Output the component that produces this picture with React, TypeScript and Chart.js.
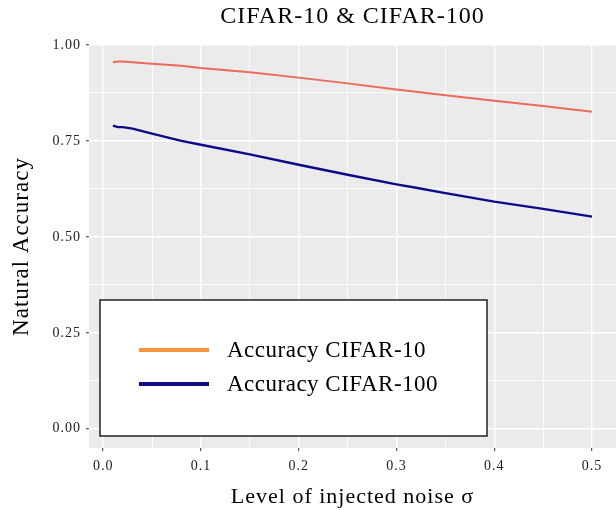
import React, { useEffect, useRef } from "react";
import { Chart, registerables } from "chart.js";

Chart.register(...registerables);

const noise = [0.01, 0.015, 0.02, 0.03, 0.05, 0.08, 0.1, 0.15, 0.2, 0.25, 0.3, 0.32, 0.35, 0.4, 0.45, 0.5];
const accCifar10 = [0.955, 0.957, 0.957, 0.955, 0.951, 0.946, 0.94, 0.929, 0.915, 0.9, 0.884, 0.878, 0.869, 0.855, 0.841, 0.826];
const accCifar100 = [0.79, 0.786, 0.786, 0.782, 0.769, 0.75, 0.74, 0.715, 0.688, 0.662, 0.637, 0.628, 0.614, 0.592, 0.573, 0.553];
const seriesLabels = ["Accuracy CIFAR-10", "Accuracy CIFAR-100"];
const xTicks = [0, 0.05, 0.1, 0.15, 0.2, 0.25, 0.3, 0.35, 0.4, 0.45, 0.5];
const yTicks = [0, 0.125, 0.25, 0.375, 0.5, 0.625, 0.75, 0.875, 1];

const FONT = "'Liberation Serif', 'Times New Roman', serif";
const lineColors = ["#EC695B", "#0B0B8A"];
const legendColors = ["#F8963F", "#0B0B8A"];
const LETTER_SPACING = "1px";

const isMajor = (v: number, step: number) => Math.abs(v / step - Math.round(v / step)) < 1e-6;

const spacing = {
  id: "spacing",
  beforeLayout(chart: any) {
    chart.ctx.letterSpacing = LETTER_SPACING;
  },
  beforeDraw(chart: any) {
    chart.ctx.letterSpacing = LETTER_SPACING;
  },
};

const panelBg = {
  id: "panelBg",
  beforeDraw(chart: any) {
    const { ctx, chartArea: a } = chart;
    ctx.save();
    ctx.fillStyle = "#EBEBEB";
    ctx.fillRect(a.left, a.top, a.right - a.left, a.bottom - a.top);
    ctx.restore();
  },
};

const boxLegend = {
  id: "boxLegend",
  afterDraw(chart: any) {
    const { ctx, chartArea: a } = chart;
    const left = a.left + 11;
    const bottom = a.bottom - 12;
    const w = 387;
    const h = 136;
    const top = bottom - h;
    ctx.save();
    ctx.fillStyle = "#FFFFFF";
    ctx.fillRect(left, top, w, h);
    ctx.strokeStyle = "#000000";
    ctx.lineWidth = 1.3;
    ctx.strokeRect(left, top, w, h);
    const rows = [top + 50, top + 84];
    chart.data.datasets.forEach((ds: any, i: number) => {
      const y = rows[i];
      ctx.strokeStyle = legendColors[i];
      ctx.lineWidth = 4;
      ctx.beginPath();
      ctx.moveTo(left + 39, y);
      ctx.lineTo(left + 109, y);
      ctx.stroke();
      ctx.fillStyle = "#000000";
      ctx.letterSpacing = "0.5px";
      ctx.font = `23px ${FONT}`;
      ctx.textBaseline = "middle";
      ctx.textAlign = "left";
      ctx.fillText(ds.label, left + 127, y + 1);
    });
    ctx.restore();
  },
};

export default function App() {
  const ref = useRef<HTMLCanvasElement | null>(null);
  useEffect(() => {
    document.body.style.margin = "0";
    if (!ref.current) return;
    const chart = new Chart(ref.current, {
      type: "line",
      data: {
        datasets: [
          {
            label: seriesLabels[0],
            data: noise.map((x, i) => ({ x, y: accCifar10[i] })),
            borderColor: lineColors[0],
            borderWidth: 2,
            pointRadius: 0,
            tension: 0,
          },
          {
            label: seriesLabels[1],
            data: noise.map((x, i) => ({ x, y: accCifar100[i] })),
            borderColor: lineColors[1],
            borderWidth: 2.4,
            pointRadius: 0,
            tension: 0,
          },
        ],
      },
      options: {
        animation: false,
        responsive: false,
        events: [],
        layout: { padding: 0 },
        plugins: {
          legend: { display: false },
          tooltip: { enabled: false },
          title: {
            display: true,
            text: "CIFAR-10 & CIFAR-100",
            fullSize: false,
            color: "#000000",
            font: { family: FONT, size: 24, weight: "normal", lineHeight: 1.2 },
            padding: { top: 2, bottom: 14.2 },
          },
        },
        scales: {
          x: {
            type: "linear",
            min: -0.0145,
            max: 0.5245,
            afterBuildTicks: (s: any) => {
              s.ticks = xTicks.map((v) => ({ value: v }));
            },
            afterFit: (s: any) => {
              s.height = 62;
            },
            border: { display: false },
            grid: {
              color: "#FFFFFF",
              lineWidth: (c: any) => (isMajor(c.tick.value, 0.1) ? 1.4 : 0.8),
              drawTicks: true,
              tickLength: 3,
              tickWidth: 1,
              tickColor: (c: any) => (isMajor(c.tick.value, 0.1) ? "#333333" : "rgba(0,0,0,0)"),
            },
            ticks: {
              color: "#222222",
              padding: 7,
              maxRotation: 0,
              autoSkip: false,
              font: { family: FONT, size: 14 },
              callback: (v: any) => (isMajor(Number(v), 0.1) ? Number(v).toFixed(1) : ""),
            },
            title: {
              display: true,
              text: "Level of injected noise σ",
              color: "#000000",
              font: { family: FONT, size: 22, lineHeight: 1.2 },
              padding: { top: 0, bottom: 0 },
            },
          },
          y: {
            type: "linear",
            min: -0.05,
            max: 1.0,
            afterBuildTicks: (s: any) => {
              s.ticks = yTicks.map((v) => ({ value: v }));
            },
            afterFit: (s: any) => {
              s.width = 89;
            },
            border: { display: false },
            grid: {
              color: "#FFFFFF",
              lineWidth: (c: any) => (isMajor(c.tick.value, 0.25) ? 1.4 : 0.8),
              drawTicks: true,
              tickLength: 3,
              tickWidth: 1,
              tickColor: (c: any) => (isMajor(c.tick.value, 0.25) ? "#333333" : "rgba(0,0,0,0)"),
            },
            ticks: {
              color: "#222222",
              padding: 5,
              autoSkip: false,
              font: { family: FONT, size: 14 },
              callback: (v: any) => (isMajor(Number(v), 0.25) ? Number(v).toFixed(2) : ""),
            },
            title: {
              display: true,
              text: "Natural Accuracy",
              color: "#000000",
              font: { family: FONT, size: 23, lineHeight: 1.2 },
              padding: { top: 8, bottom: 0 },
            },
          },
        },
      },
      plugins: [spacing, panelBg, boxLegend],
    });
    return () => chart.destroy();
  }, []);
  return (
    <div style={{ width: 616, height: 510, background: "#FFFFFF" }}>
      <canvas ref={ref} width={616} height={510} style={{ display: "block" }} />
    </div>
  );
}
